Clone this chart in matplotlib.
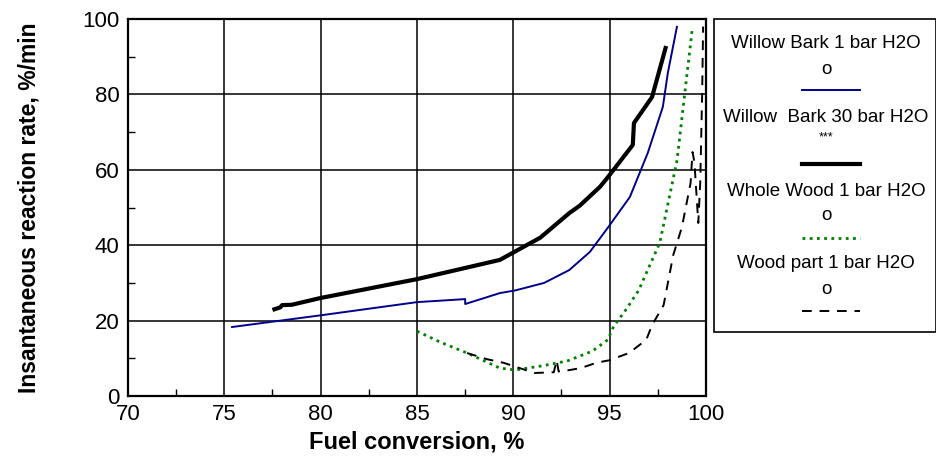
import matplotlib.pyplot as plt
from matplotlib.lines import Line2D
from matplotlib.patches import Rectangle
from matplotlib.ticker import MultipleLocator

plt.rcParams['font.family'] = ['Liberation Sans', 'DejaVu Sans']

# Willow Bark 1 bar H2O
bark1_x = [75.4, 80.0, 85.0, 87.5, 87.5, 88.5, 89.3, 90.1, 91.6, 92.9, 93.97, 94.9,
           96.05, 96.98, 97.76, 98.02, 98.49]
bark1_y = [18.3, 21.4, 24.9, 25.7, 24.4, 26.0, 27.3, 28.0, 30.0, 33.4, 38.2, 44.6,
           52.8, 64.5, 76.7, 85.7, 97.9]

# Willow Bark 30 bar H2O
bark30_x = [77.6, 77.9, 78.0, 78.5, 80.0, 85.0, 89.3, 91.4, 92.9, 93.45, 94.5, 94.9,
            96.2, 96.26, 97.2, 97.9]
bark30_y = [23.0, 23.5, 24.1, 24.2, 26.0, 31.0, 36.1, 42.0, 48.5, 50.5, 55.5, 58.0,
            66.6, 72.4, 79.3, 92.3]

# Whole Wood 1 bar H2O
whole_x = [85.0, 86.2, 87.6, 89.3, 90.1, 91.5, 92.8, 94.1, 94.9, 95.2, 95.9, 96.5,
           97.6, 98.5, 98.9, 99.3]
whole_y = [17.2, 14.3, 11.4, 7.4, 6.9, 8.0, 9.3, 11.9, 14.9, 18.4, 23.3, 28.0,
           40.6, 62.6, 80.4, 97.9]

# Wood part 1 bar H2O
part_x = [87.6, 88.6, 89.5, 91.1, 92.1, 92.25, 92.35, 92.6, 93.5, 94.3, 95.0, 96.0,
          96.9, 97.2, 97.8, 98.3, 98.75, 99.2, 99.3, 99.4, 99.6, 99.7, 99.8, 99.85]
part_y = [11.4, 9.8, 8.8, 6.1, 6.3, 9.5, 6.5, 6.6, 7.4, 8.8, 9.5, 11.4,
          14.9, 18.8, 24.1, 37.4, 44.8, 56.5, 64.7, 62.0, 45.9, 56.5, 80.0, 98.0]

labels = ['Willow Bark 1 bar H2O', 'Willow  Bark 30 bar H2O',
          'Whole Wood 1 bar H2O', 'Wood part 1 bar H2O']
markers = ['o', '***', 'o', 'o']

fig = plt.figure(figsize=(9.36, 4.58), dpi=100)
ax = fig.add_axes([128 / 936, 62 / 458, 578 / 936, 377 / 458])

styles = [dict(color='#00008b', lw=1.4, ls='-'),
          dict(color='black', lw=3.0, ls='-'),
          dict(color='#008000', lw=2.0, ls=(0, (1, 1.6))),
          dict(color='black', lw=1.4, ls=(0, (5, 4)))]

ax.plot(bark1_x, bark1_y, **styles[0])
ax.plot(bark30_x, bark30_y, **styles[1])
ax.plot(whole_x, whole_y, **styles[2])
ax.plot(part_x, part_y, **styles[3])

ax.set_xlim(70, 100)
ax.set_ylim(0, 100)
ax.xaxis.set_major_locator(MultipleLocator(5))
ax.yaxis.set_major_locator(MultipleLocator(20))
ax.xaxis.set_minor_locator(MultipleLocator(2.5))
ax.yaxis.set_minor_locator(MultipleLocator(10))
ax.grid(True, which='major', color='black', lw=1.1)
ax.tick_params(which='both', direction='in', color='black', labelsize=16)
ax.tick_params(which='major', length=0, pad=6)
ax.tick_params(which='minor', length=5, width=1)
for s in ax.spines.values():
    s.set_linewidth(1.6)

ax.set_xlabel('Fuel conversion, %', fontsize=17, fontweight='bold', labelpad=4)
ax.set_ylabel('Insantaneous reaction rate, %/min', fontsize=16.5,
              fontweight='bold', labelpad=30)

# legend box drawn by hand, as in the original
fig.add_artist(Rectangle((714 / 936, 1 - 332 / 458), 222 / 936, 313 / 458,
                         transform=fig.transFigure, fill=False, ec='black', lw=1.2))
text_y = [43, 117, 192, 263]
mark_y = [69, 137, 215, 289]
line_y = [90, 164, 238, 311]
cx = 826 / 936
for i in range(4):
    fig.text(cx, 1 - text_y[i] / 458, labels[i], ha='center', va='center', fontsize=13.5)
    fig.text(cx, 1 - mark_y[i] / 458, markers[i], ha='center', va='center',
             fontsize=13.5 if markers[i] == 'o' else 9)
    fig.add_artist(Line2D([802 / 936, 860 / 936], [1 - line_y[i] / 458] * 2,
                          transform=fig.transFigure, **styles[i]))

fig.savefig('out.png', dpi=100)
